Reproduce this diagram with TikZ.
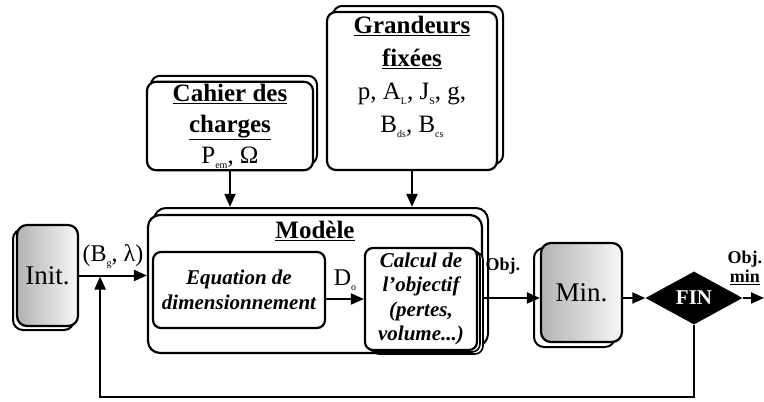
\documentclass[tikz,border=0pt]{standalone}
\usepackage{fontspec}
\setmainfont{Liberation Serif}
\usepackage{tikz}
\usetikzlibrary{shapes.geometric, arrows.meta, positioning, calc, shadows}

\newcommand{\subtxt}[1]{\raisebox{-5pt}{\fontsize{10}{10}\selectfont #1}}

\begin{document}
\begin{tikzpicture}[
    x=1pt, y=-1pt,
    % --- node styles ---
    panel/.style={rectangle, rounded corners=9pt, draw=black, fill=white,
        line width=2.2pt, align=center, inner sep=2pt,
        font=\fontsize{25}{31}\selectfont},
    inner/.style={rectangle, rounded corners=8pt, draw=black, fill=white,
        line width=2.2pt, align=center, inner sep=2pt,
        font=\fontsize{21}{24.5}\selectfont\bfseries\itshape},
    algo/.style={rectangle, rounded corners=10pt, draw=black,
        left color=black!30, right color=black!3,
        line width=2.2pt, align=center, inner sep=2pt,
        font=\fontsize{27}{30}\selectfont},
    dec/.style={diamond, aspect=1.8, fill=black, text=white,
        minimum width=97pt, minimum height=53pt, inner sep=0pt,
        font=\fontsize{21}{22}\selectfont\bfseries},
    shd/.style={fill=white, draw=black, line width=2pt},
    hdr/.style={font=\fontsize{25}{30}\selectfont\bfseries, inner sep=2pt},
    % --- arrow / label styles ---
    arr/.style={-{Triangle[length=13pt, width=11pt]}, line width=2pt},
    lbl/.style={font=\fontsize{24}{26}\selectfont, inner sep=1pt},
    blbl/.style={font=\fontsize{18}{19}\selectfont\bfseries, inner sep=1pt,
        align=center}
]
\useasboundingbox (0,0) rectangle (764,402);

%%% ================= INPUTS =================
\node (cahier) [panel, minimum width=166pt, minimum height=88pt,
    copy shadow={shd, shadow xshift=4pt, shadow yshift=6pt}]
    at (230,126)
    {\textbf{\underline{Cahier des}}\\\textbf{\underline{charges}}\\
     P\subtxt{em}, Ω};
\node (grand) [panel, minimum width=170pt, minimum height=158pt,
    copy shadow={shd, shadow xshift=6pt, shadow yshift=6pt}]
    at (412,91) {};
\node (grandtxt) [align=center, font=\fontsize{25}{33}\selectfont,
    below=2pt of grand.north]
    {\textbf{\underline{Grandeurs}}\\\textbf{\underline{fixées}}\\
     p, A\subtxt{L}, J\subtxt{S}, g,\\B\subtxt{ds}, B\subtxt{cs}};

%%% ================= MODEL =================
\node (model) [panel, rounded corners=12pt, minimum width=334pt,
    minimum height=138pt,
    copy shadow={shd, shadow xshift=6pt, shadow yshift=7pt}]
    at (315,284) {};
\node (mtitle) [hdr, below=5pt of model.north] {\underline{Modèle}};
\node (eq) [inner, minimum width=172pt, minimum height=76pt] at (239,290)
    {Equation de\\dimensionnement};
\node (calc) [inner, minimum width=112pt, minimum height=102pt,
    double copy shadow={shd, shadow xshift=3pt, shadow yshift=-2pt,
        line width=1.6pt}]
    at (421,299)
    {Calcul de\\l’objectif\\(pertes,\\volume...)};

%%% ================= ALGORITHM =================
\node (init) [algo, minimum width=61pt, minimum height=101pt,
    copy shadow={shd, shadow xshift=-4pt, shadow yshift=-4pt}]
    at (47.5,275.5) {Init.};
\node (min) [algo, minimum width=81pt, minimum height=99pt,
    copy shadow={shd, shadow xshift=-7pt, shadow yshift=-5pt}]
    at (581.5,292.5) {Min.};
\node (fin) [dec] at (694,298) {FIN};
\coordinate (out) at (764,298);
\coordinate (merge) at ($(init.east)!0.31!(init.east -| model.west)$);

%%% ================= ARROWS =================
\draw [arr, shorten >=7pt] (cahier.south) -- (cahier.south |- model.north);
\draw [arr, shorten >=7pt] (grand.south) -- (grand.south |- model.north);
\draw [arr] (init.east) -- node[lbl, above=5pt]
    {(B\subtxt{g}, λ)} (init.east -| model.west);
\draw [arr] (eq.east |- calc) -- node[lbl, above=6pt]
    {D\subtxt{o}} (calc.west);
\draw [arr] (model.east |- fin) -- node[blbl, above=22pt, pos=0.35]
    {Obj.} (min.west |- fin);
\draw [arr] (min.east |- fin) -- (fin.west);
\draw [arr] (fin.east) -- (out);
\node (objmin) [blbl, above=12pt] at ($(fin.east)!0.1!(out)$)
    {Obj.\\\underline{min}};

%% Return loop
\draw [arr, shorten >=1pt] (fin.south) -- ++(0,72) -| (merge);

\end{tikzpicture}
\end{document}
